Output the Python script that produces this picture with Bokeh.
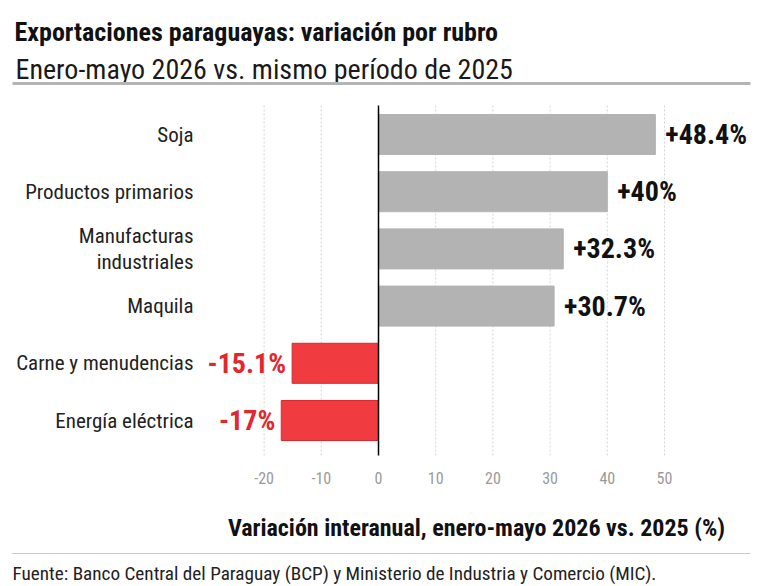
from bokeh.plotting import figure
from bokeh.models import Range1d, ColumnDataSource
from bokeh.core.properties import value
from bokeh.embed import file_html
from bokeh.resources import INLINE

# ---- data ----
categories = ["Soja", "Productos primarios", "Manufacturas\nindustriales", "Maquila",
              "Carne y menudencias", "Energía eléctrica"]
variation = [48.4, 40.0, 32.3, 30.7, -15.1, -17.0]
value_labels = ["+48.4%", "+40%", "+32.3%", "+30.7%", "-15.1%", "-17%"]
x_ticks = [-20, -10, 0, 10, 20, 30, 40, 50]
x_tick_labels = ["-20", "-10", "0", "10", "20", "30", "40", "50"]

title_text = "Exportaciones paraguayas: variación por rubro"
subtitle_text = "Enero-mayo 2026 vs. mismo período de 2025"
xlabel_text = "Variación interanual, enero-mayo 2026 vs. 2025 (%)"
source_text = "Fuente: Banco Central del Paraguay (BCP) y Ministerio de Industria y Comercio (MIC)."

# ---- layout / style constants ----
FONT = "Roboto Condensed"
GRAY_BAR = "#b3b3b3"
RED_BAR = "#f03b40"
RED_LINE = "#d9282e"
RED_TXT = "#e3272d"
W, H = 770, 586
ZERO_PX, PX_PER_UNIT = 378, 5.72      # x: value 0 at pixel 378, 5.72 px per percentage point
ROW0_PX, ROW_PX = 134, 57.2           # y: first category centre and row pitch
PLOT_TOP, PLOT_BOTTOM = 105, 455      # extent of grid / zero line
LABEL_RIGHT = 193                     # right edge of category labels

n = len(categories)
pos = list(range(n))

x_range = Range1d(-ZERO_PX / PX_PER_UNIT, (W - ZERO_PX) / PX_PER_UNIT)
y_range = Range1d((H - ROW0_PX) / ROW_PX, -ROW0_PX / ROW_PX)

p = figure(width=W, height=H, x_range=x_range, y_range=y_range,
           x_axis_location=None, y_axis_location=None,
           output_backend="svg", toolbar_location=None, min_border=0)
p.outline_line_color = None
p.grid.visible = False
# pixel ranges for page furniture
p.extra_x_ranges = {"px": Range1d(0, W)}
p.extra_y_ranges = {"py": Range1d(H, 0)}

# ---- grid and zero line ----
grid_ticks = [t for t in x_ticks if t != 0]
p.segment(x0=grid_ticks, x1=grid_ticks, y0=[PLOT_TOP] * len(grid_ticks),
          y1=[PLOT_BOTTOM] * len(grid_ticks), y_range_name="py",
          line_color="#d4d4d4", line_width=1, line_dash="2 2")

# ---- bars ----
colors = [GRAY_BAR if v >= 0 else RED_BAR for v in variation]
lines = [GRAY_BAR if v >= 0 else RED_LINE for v in variation]
src = ColumnDataSource(dict(y=pos, v=variation, c=colors, lc=lines))
p.hbar(y="y", left=0, right="v", height=0.7, fill_color="c", line_color="lc",
       line_width=1, source=src)

p.segment(x0=[0], x1=[0], y0=[PLOT_TOP], y1=[PLOT_BOTTOM], y_range_name="py",
          line_color="#000000", line_width=1.5)

# ---- value labels ----
pos_src = ColumnDataSource(dict(
    x=[v for v in variation if v >= 0],
    y=[i for i, v in zip(pos, variation) if v >= 0],
    t=[t for t, v in zip(value_labels, variation) if v >= 0]))
neg_src = ColumnDataSource(dict(
    x=[v for v in variation if v < 0],
    y=[i for i, v in zip(pos, variation) if v < 0],
    t=[t for t, v in zip(value_labels, variation) if v < 0]))
p.text(x="x", y="y", text="t", source=pos_src, x_offset=10, text_align="left",
       text_baseline="middle", text_font=value(FONT), text_font_style="bold",
       text_font_size="28px", text_color="#111111")
p.text(x="x", y="y", text="t", source=neg_src, x_offset=-6, text_align="right",
       text_baseline="middle", text_font=value(FONT), text_font_style="bold",
       text_font_size="28px", text_color=RED_TXT)

# ---- category labels (y axis) ----
p.text(x=[LABEL_RIGHT] * n, y=pos, text=categories, x_range_name="px",
       text_align="right", text_baseline="middle", text_font=value(FONT),
       text_font_size="21px", text_color="#222222", text_line_height=1.08)

# ---- x tick labels ----
p.text(x=x_ticks, y=[477] * len(x_ticks), text=x_tick_labels, y_range_name="py",
       text_align="center", text_baseline="alphabetic", text_font=value(FONT),
       text_font_size="16px", text_color="#9a9a9a")

# ---- page texts ----
def ptext(x, y, txt, size, style="normal", color="#1a1a1a", align="left"):
    p.text(x=[x], y=[y], text=[txt], x_range_name="px", y_range_name="py",
           text_align=align, text_baseline="alphabetic", text_font=value(FONT),
           text_font_style=style, text_font_size=size, text_color=color)


ptext(14, 31, title_text, "26px", "bold", "#111111")
ptext(15, 69, subtitle_text, "28px")
p.line(x=[12, 750], y=[83, 83], x_range_name="px", y_range_name="py",
       line_color="#b4b4b4", line_width=3)

ptext(476, 527, xlabel_text, "24px", "bold", "#111111", "center")

p.line(x=[12, 750], y=[553, 553], x_range_name="px", y_range_name="py",
       line_color="#c8c8c8", line_width=1)
ptext(12, 573, source_text, "19.2px", color="#222222")

open("out.html", "w").write(file_html(p, INLINE))
